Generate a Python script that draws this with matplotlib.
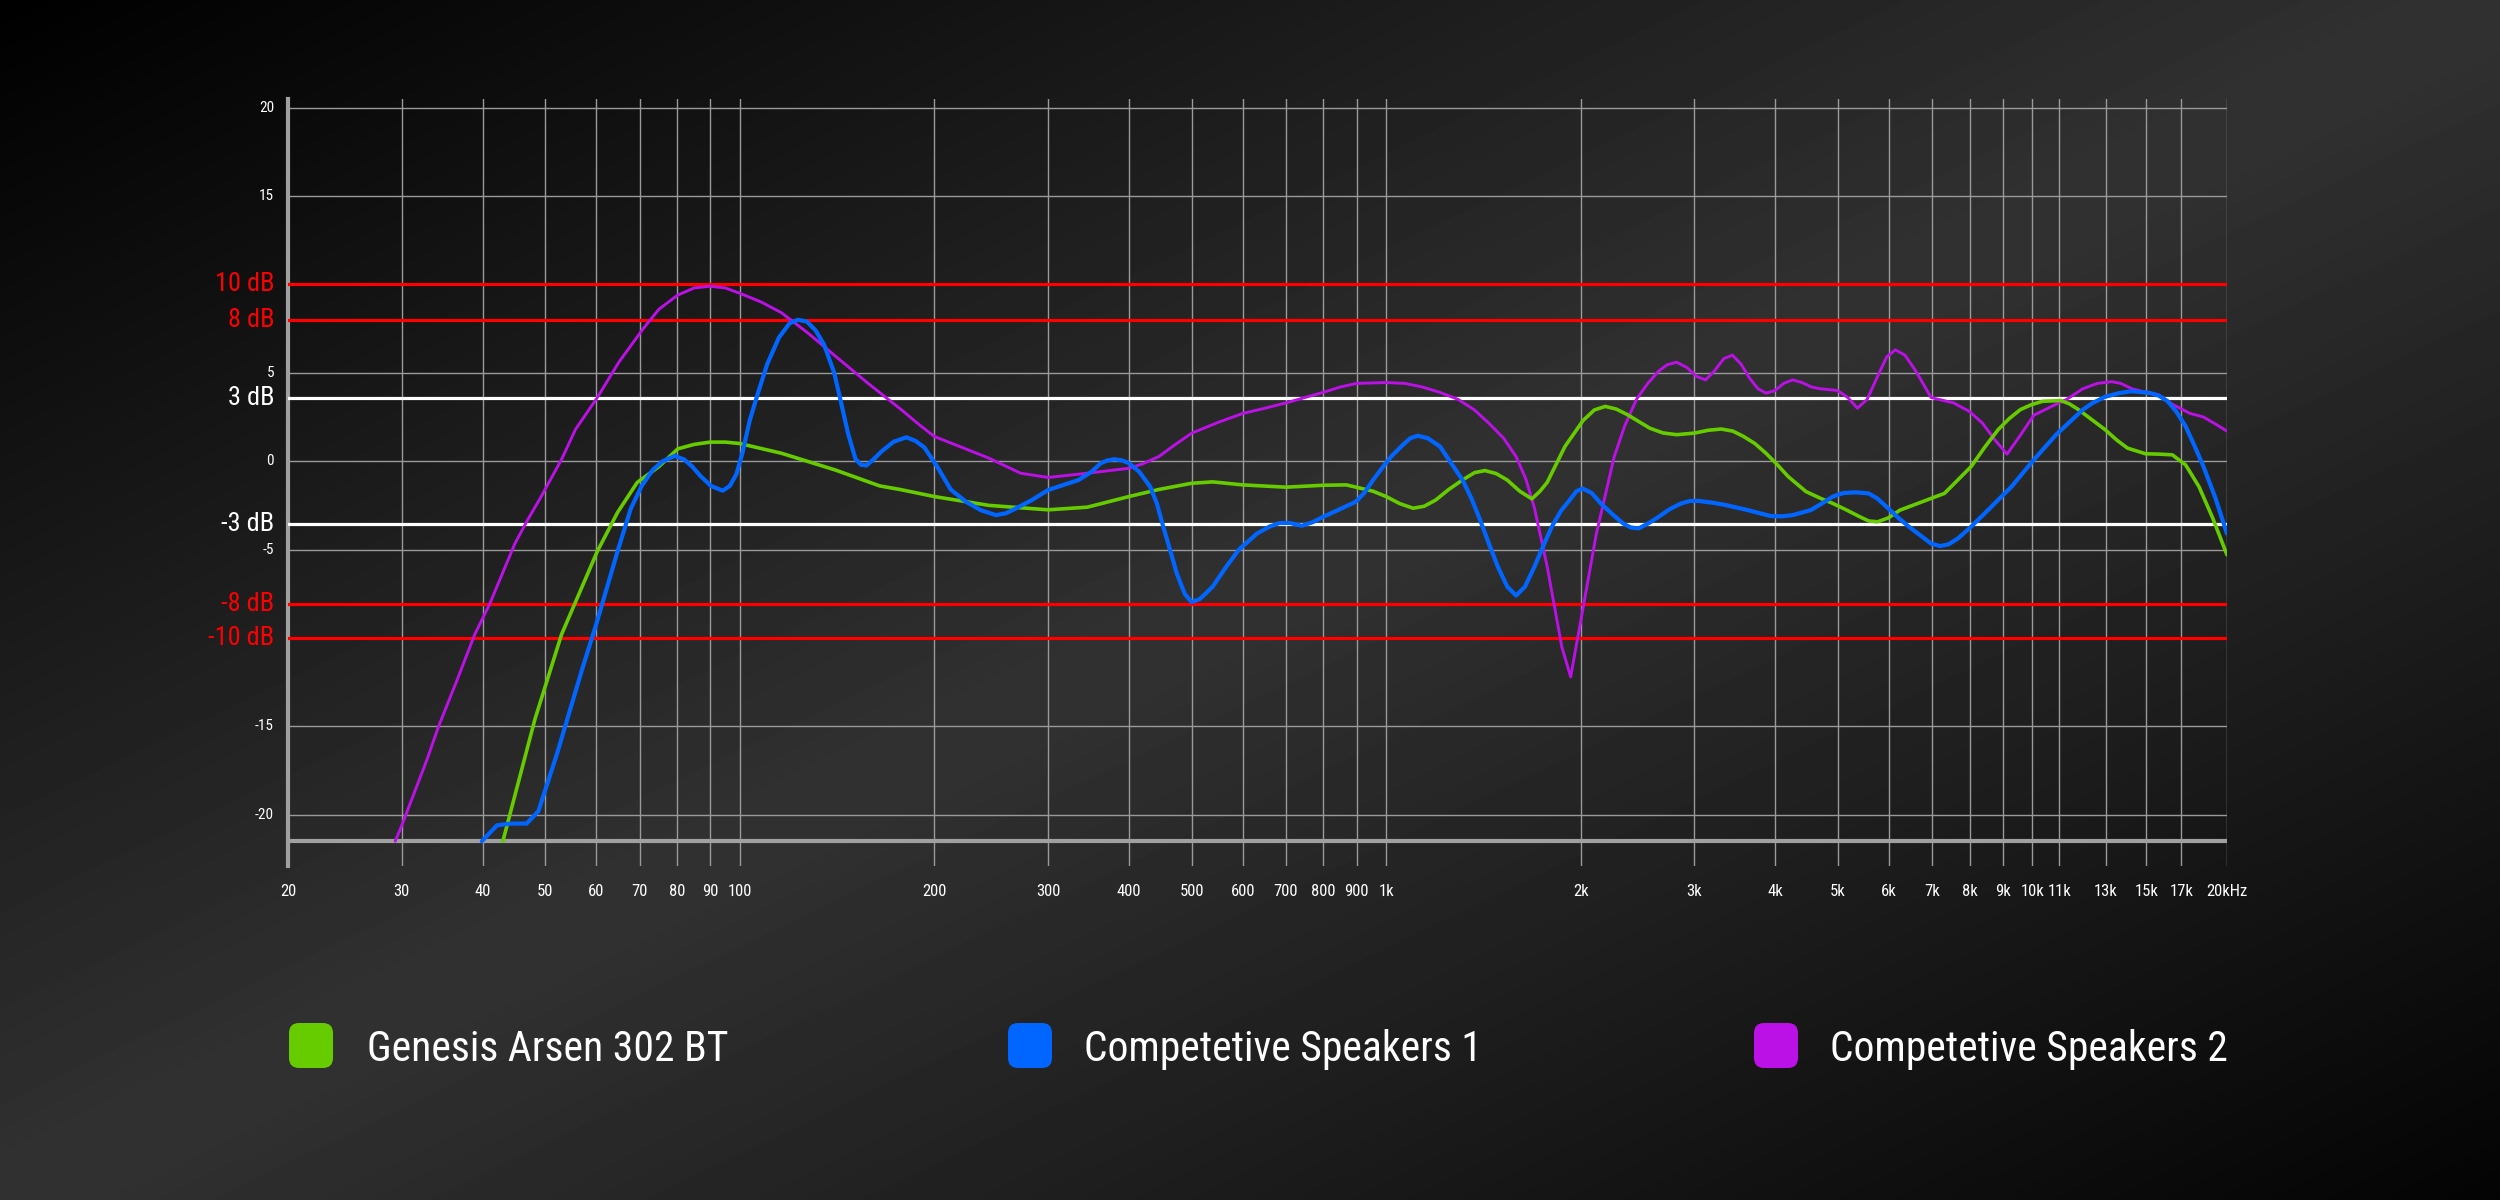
import numpy as np
import matplotlib
matplotlib.use('Agg')
import matplotlib.pyplot as plt
from matplotlib import font_manager as fm
from matplotlib.patches import FancyBboxPatch
from matplotlib.ticker import NullLocator

# ---------------- data ----------------
series_names = ["Genesis Arsen 302 BT", "Competetive Speakers 1", "Competetive Speakers 2"]
series_colors = ["#66cc00", "#0066ff", "#bb10e6"]

genesis_f = [43.0, 48.2, 53.0, 60.2, 64.7, 69.4, 75, 80.2, 85, 90, 95, 100, 116, 140.6, 164.7,
             177, 200, 243, 300, 345, 400, 445, 500, 539, 600, 700, 800, 868, 955, 1000, 1050, 1101, 1145,
             1193, 1250, 1313, 1370, 1422, 1480, 1539, 1610, 1681, 1730, 1775, 1891, 2017, 2100, 2183,
             2270, 2363, 2558, 2680, 2815, 3000, 3150, 3301, 3440, 3573, 3720, 3870, 4030, 4189, 4464,
             4700, 4912, 5150, 5404, 5580, 5760, 5990, 6237, 6860, 7310, 8040, 8440, 8848, 9200, 9580,
             9970, 10370, 11060, 11400, 11780, 12960, 13500, 14030, 14960, 15700, 16460, 17260, 18100,
             19000, 20000]
genesis_db = [-21.5, -14.6, -9.8, -5.1, -2.9, -1.2, -0.3, 0.7, 0.95, 1.08, 1.08,
              1.0, 0.45, -0.5, -1.4, -1.6, -2.0, -2.5, -2.75, -2.6, -2.0, -1.6, -1.25, -1.17, -1.34,
              -1.47, -1.36, -1.34, -1.7, -2.0, -2.4, -2.66, -2.55, -2.2, -1.6, -1.06, -0.65, -0.53, -0.7,
              -1.06, -1.7, -2.13, -1.7, -1.2, 0.83, 2.3, 2.9, 3.1, 2.95, 2.63, 1.87, 1.6, 1.5, 1.59, 1.75,
              1.82, 1.7, 1.4, 1.0, 0.45, -0.2, -0.87, -1.72, -2.1, -2.39, -2.75, -3.14, -3.38, -3.43,
              -3.2, -2.77, -2.2, -1.82, -0.3, 0.8, 1.78, 2.4, 2.92, 3.2, 3.39, 3.43, 3.25, 2.92, 1.78, 1.2,
              0.74, 0.42, 0.4, 0.36, -0.21, -1.44, -3.2, -5.3]

comp1_f = [39.9, 42.1, 44.2, 46.8, 48.8, 52.2, 57.0, 60, 64.7, 67.8, 70.5, 73.3, 76, 79.3, 82, 84.4, 87,
           90.3, 94.1, 96.5, 98.8, 101, 103.6, 107, 110.3, 115, 119.4, 123, 127, 131, 135, 140, 143.7,
           147, 151, 154, 157, 161, 165.8, 173, 181, 187, 193, 202, 212, 224, 236, 249, 258, 267.5, 283,
           300, 334.5, 350, 362, 371, 380, 390, 400, 415, 431.5, 442, 452, 463, 474.5, 488, 500, 515,
           539, 565, 592, 631, 660, 684, 710, 741, 770, 800, 850, 897, 925, 955, 985, 1018, 1060, 1090,
           1120, 1160, 1212, 1260, 1313, 1355, 1398, 1440, 1490, 1540, 1589, 1640, 1695, 1750, 1805,
           1865, 1923, 1970, 2016, 2080, 2149, 2240, 2326, 2390, 2460, 2550, 2642, 2750, 2861, 2950,
           3050, 3200, 3354, 3631, 3932, 4100, 4257, 4537, 4720, 4912, 5100, 5318, 5579, 5750, 5946,
           6200, 6438, 6970, 7195, 7420, 7670, 8040, 8436, 9282, 10050, 10880, 11970, 12400, 12960,
           13600, 14250, 15200, 15700, 16190, 16700, 17260, 17800, 18390, 19200, 20000]
comp1_db = [-21.5, -20.6, -20.5, -20.5, -19.8, -16.5, -11.8, -9.2, -5.1, -2.7, -1.4, -0.5, 0.0, 0.3, 0.1,
            -0.3, -0.85, -1.4, -1.67, -1.4, -0.74, 0.5, 2.3, 4.0, 5.5, 7.0, 7.8, 8.0, 7.9, 7.4, 6.6, 5.0,
            3.2, 1.6, 0.13, -0.2, -0.24, 0.1, 0.56, 1.1, 1.35, 1.15, 0.78, -0.3, -1.6, -2.3, -2.77, -3.05,
            -2.95, -2.67, -2.2, -1.63, -1.06, -0.6, -0.11, 0.05, 0.11, 0.05, -0.11, -0.6, -1.44, -2.4,
            -3.7, -5.0, -6.36, -7.5, -7.97, -7.8, -7.1, -6.0, -5.0, -4.1, -3.7, -3.5, -3.5, -3.65, -3.45,
            -3.14, -2.7, -2.3, -1.8, -1.06, -0.4, 0.26, 0.9, 1.3, 1.44, 1.3, 0.83, -0.1, -1.06, -2.1,
            -3.33, -4.6, -6.0, -7.1, -7.6, -7.1, -6.0, -4.8, -3.7, -2.8, -2.2, -1.7, -1.55, -1.8, -2.39,
            -3.0, -3.52, -3.75, -3.8, -3.5, -3.14, -2.7, -2.39, -2.25, -2.25, -2.35, -2.48, -2.77, -3.1,
            -3.12, -3.05, -2.77, -2.4, -2.0, -1.8, -1.76, -1.82, -2.1, -2.58, -3.2, -3.7, -4.66, -4.8,
            -4.7, -4.37, -3.7, -2.95, -1.44, 0.08, 1.5, 2.92, 3.3, 3.64, 3.85, 3.96, 3.86, 3.7, 3.39,
            2.8, 1.97, 0.9, -0.3, -2.1, -4.1]

comp2_f = [29.3, 30, 32.8, 34.2, 36.6, 38.9, 41, 44.9, 47, 49.2, 53, 55.7, 60.2, 65, 70.9, 75, 80.2, 85, 90,
           95, 100, 108, 116, 128, 140, 158, 178, 189, 200, 220, 243, 272, 300, 345, 400, 420, 445, 470,
           500, 550, 600, 650, 700, 800, 850, 900, 1000, 1070, 1137, 1210, 1292, 1370, 1442, 1520, 1589,
           1645, 1695, 1776, 1870, 1930, 1990, 2115, 2254, 2340, 2440, 2540, 2641, 2720, 2815, 2920,
           3020, 3120, 3220, 3330, 3434, 3540, 3650, 3760, 3870, 4000, 4120, 4256, 4400, 4550, 4688,
           4993, 5180, 5360, 5550, 5760, 5950, 6135, 6350, 6600, 6970, 7550, 8000, 8370, 8750, 9135,
           9550, 10050, 10710, 11300, 11970, 12600, 13270, 13700, 14250, 15000, 15690, 16500, 17540,
           18390, 19200, 20000]
comp2_db = [-21.5, -20.6, -16.9, -15.0, -12.3, -9.8, -8.1, -4.65, -3.3, -2.05, 0.1, 1.8, 3.6, 5.6, 7.5,
            8.6, 9.4, 9.8, 9.9, 9.8, 9.5, 9.0, 8.4, 7.2, 6.0, 4.4, 2.9, 2.1, 1.4, 0.8, 0.17, -0.68, -0.92,
            -0.68, -0.4, -0.15, 0.26, 0.9, 1.58, 2.2, 2.7, 3.0, 3.3, 3.9, 4.2, 4.4, 4.45, 4.4, 4.2, 3.9,
            3.5, 2.9, 2.15, 1.3, 0.26, -1.0, -2.6, -6.0, -10.5, -12.2, -9.5, -4.1, 0.26, 2.0, 3.5, 4.4,
            5.1, 5.45, 5.6, 5.3, 4.8, 4.6, 5.1, 5.8, 6.0, 5.5, 4.7, 4.1, 3.85, 4.0, 4.4, 4.6, 4.45, 4.2,
            4.1, 4.0, 3.6, 3.0, 3.5, 4.8, 5.9, 6.3, 6.0, 5.1, 3.6, 3.3, 2.8, 2.15, 1.2, 0.4, 1.4, 2.6,
            3.1, 3.5, 4.1, 4.4, 4.5, 4.4, 4.1, 3.9, 3.75, 3.2, 2.7, 2.5, 2.1, 1.7]

x_ticks = [20, 30, 40, 50, 60, 70, 80, 90, 100, 200, 300, 400, 500, 600, 700, 800, 900, 1000, 2000, 3000,
           4000, 5000, 6000, 7000, 8000, 9000, 10000, 11000, 13000, 15000, 17000, 20000]
x_labels = ["20", "30", "40", "50", "60", "70", "80", "90", "100", "200", "300", "400", "500", "600", "700",
            "800", "900", "1k", "2k", "3k", "4k", "5k", "6k", "7k", "8k", "9k", "10k", "11k", "13k", "15k",
            "17k", "20kHz"]
y_grid = [20, 15, 10, 5, 0, -5, -10, -15, -20]
y_small_ticks = [20, 15, 5, 0, -5, -15, -20]
y_small_labels = ["20", "15", "5", "0", "-5", "-15", "-20"]
ref_levels = [10, 8, 3.55, -3.55, -8.1, -10]
ref_labels = ["10 dB", "8 dB", "3 dB", "-3 dB", "-8 dB", "-10 dB"]
ref_colors = ["#ff0000", "#ff0000", "#ffffff", "#ffffff", "#ff0000", "#ff0000"]


def pick(names):
    for n in names:
        try:
            fm.findfont(fm.FontProperties(family=n), fallback_to_default=False)
            return n
        except Exception:
            continue
    return 'DejaVu Sans'


COND = pick(['Roboto Condensed', 'Liberation Sans Narrow', 'Open Sans Condensed', 'Roboto'])
plt.rcParams['font.family'] = [COND, 'DejaVu Sans']

W, H = 2500, 1200
fig = plt.figure(figsize=(25, 12), dpi=100)

# background gradient
bg = fig.add_axes([0, 0, 1, 1], zorder=-10)
yy, xx = np.mgrid[0:1:300j, 0:1:600j]
t = (xx + yy) / 2
v = np.interp(t, [0, 0.5, 1], [0.0, 0.195, 0.015])
bg.imshow(v, cmap='gray', vmin=0, vmax=1, extent=[0, 1, 0, 1], origin='upper',
          aspect='auto', interpolation='bilinear')
bg.axis('off')

ax = fig.add_axes([288 / W, 1 - 866 / H, (2227 - 288) / W, (866 - 99) / H])
ax.set_facecolor('none')
ax.set_xscale('log')
ax.set_xlim(20, 20000)
ax.set_ylim(-22.9, 20.49)
ax.set_xticks(x_ticks)
ax.set_xticklabels(x_labels)
ax.xaxis.set_minor_locator(NullLocator())
ax.set_yticks(y_grid)
ax.set_yticklabels([])
ax.tick_params(axis='both', length=0)
ax.tick_params(axis='x', pad=13, colors='white', labelsize=12)
ax.grid(True, color='#9a9a9a', lw=1.0, zorder=1)
ax.set_axisbelow(True)
for s in ['top', 'right', 'bottom']:
    ax.spines[s].set_visible(False)
ax.spines['left'].set_color('#a0a0a0')
ax.spines['left'].set_linewidth(3)
ax.axhline(-21.47, color='#a0a0a0', lw=3, zorder=2)

for yv, lab in zip(y_small_ticks, y_small_labels):
    ax.annotate(lab, xy=(0, yv), xycoords=('axes fraction', 'data'), xytext=(-10, 0),
                textcoords='offset points', ha='right', va='center', color='white', fontsize=11)

for yv, lab, c in zip(ref_levels, ref_labels, ref_colors):
    ax.axhline(yv, color=c, lw=2.3, zorder=3)
    ax.annotate(lab, xy=(0, yv), xycoords=('axes fraction', 'data'), xytext=(-10, 0),
                textcoords='offset points', ha='right', va='center', color=c, fontsize=19)

ax.plot(comp2_f, comp2_db, color=series_colors[2], lw=2.1, zorder=5,
        solid_joinstyle='round', solid_capstyle='round')
ax.plot(genesis_f, genesis_db, color=series_colors[0], lw=2.6, zorder=6,
        solid_joinstyle='round', solid_capstyle='round')
ax.plot(comp1_f, comp1_db, color=series_colors[1], lw=3.0, zorder=7,
        solid_joinstyle='round', solid_capstyle='round')

# legend
sw_x = [289, 1008, 1754]
tx_x = [367, 1084, 1830]
for name, col, sx, tx in zip(series_names, series_colors, sw_x, tx_x):
    p = FancyBboxPatch((sx / 100, (H - 1068) / 100), 0.44, 0.45,
                       boxstyle="round,pad=0,rounding_size=0.1", transform=fig.dpi_scale_trans,
                       facecolor=col, edgecolor='none')
    fig.patches.append(p)
    fig.text(tx / W, 1 - 1061 / H, name, color='white', fontsize=30, ha='left', va='baseline')

fig.savefig('out.png', dpi=100, facecolor='black')
